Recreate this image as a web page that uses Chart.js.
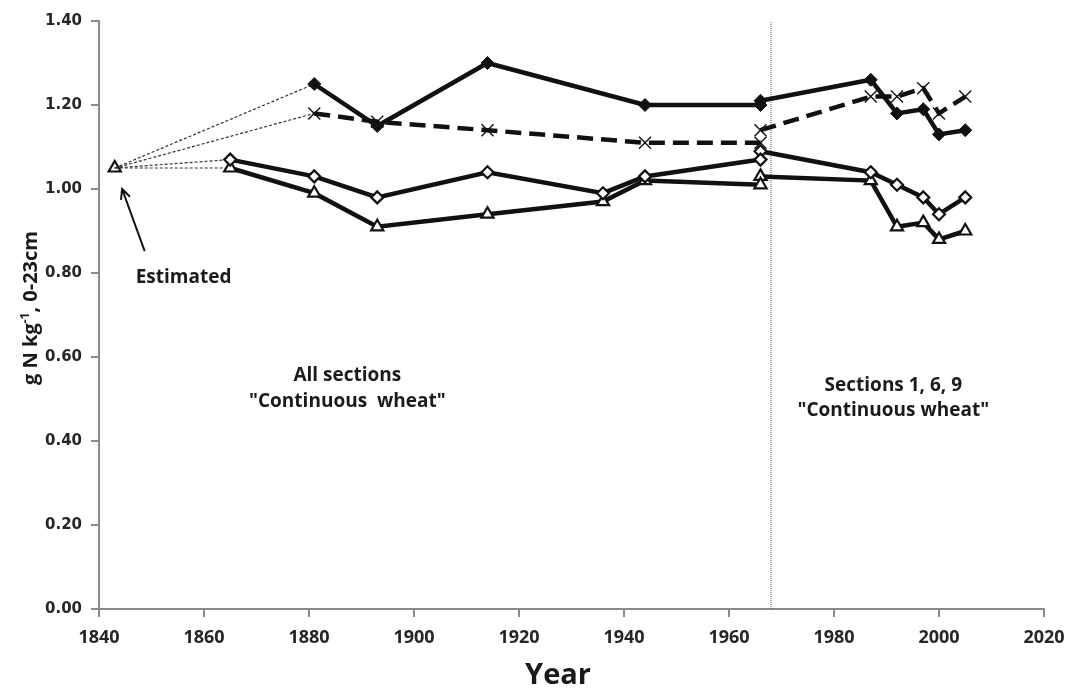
<!DOCTYPE html>
<html>
<head>
<meta charset="utf-8">
<script src="https://cdn.jsdelivr.net/npm/chart.js@4/dist/chart.umd.min.js"></script>
<style>
  html, body { margin: 0; padding: 0; background: #fff; }
  #wrap { width: 1066px; height: 689px; }
</style>
</head>
<body>
<div id="wrap"><canvas id="soil-n-graph" width="1066" height="689"></canvas></div>
<script>
// Broadbalk "continuous wheat", total N in topsoil (g N/kg, 0-23cm)
const estYear = 1843, estValue = 1.05;
const splitYear = 1968;

// all sections, up to 1966
const fdAllYears = [1881, 1893, 1914, 1944, 1966];
const fdAllN     = [1.25, 1.15, 1.30, 1.20, 1.20];
const xAllYears  = [1881, 1893, 1914, 1944, 1966];
const xAllN      = [1.18, 1.16, 1.14, 1.11, 1.11];
const odAllYears = [1865, 1881, 1893, 1914, 1936, 1944, 1966];
const odAllN     = [1.07, 1.03, 0.98, 1.04, 0.99, 1.03, 1.07];
const trAllYears = [1865, 1881, 1893, 1914, 1936, 1944, 1966];
const trAllN     = [1.05, 0.99, 0.91, 0.94, 0.97, 1.02, 1.01];

// sections 1, 6, 9 from 1966
const secYears = [1966, 1987, 1992, 1997, 2000, 2005];
const fdSecN   = [1.21, 1.26, 1.18, 1.19, 1.13, 1.14];
const xSecN    = [1.14, 1.22, 1.22, 1.24, 1.18, 1.22];
const odSecN   = [1.09, 1.04, 1.01, 0.98, 0.94, 0.98];
const trSecN   = [1.03, 1.02, 0.91, 0.92, 0.88, 0.90];

const yTicks = [0, 0.2, 0.4, 0.6, 0.8, 1.0, 1.2, 1.4];
const xTicks = [1840, 1860, 1880, 1900, 1920, 1940, 1960, 1980, 2000, 2020];

function pts(xs, ys) {
    return xs.map((x, i) => ({x, y: ys[i]}));
}

const black = '#111';
const marker = {
    fd: {pointStyle: 'rectRot', pointRadius: 6.5, pointBackgroundColor: black, pointBorderColor: black, pointBorderWidth: 1},
    x:  {pointStyle: 'crossRot', pointRadius: 8.5, pointBackgroundColor: black, pointBorderColor: black, pointBorderWidth: 1.4},
    od: {pointStyle: 'rectRot', pointRadius: 6, pointBackgroundColor: '#fff', pointBorderColor: black, pointBorderWidth: 2.2},
    tr: {pointStyle: 'triangle', pointRadius: 7, pointBackgroundColor: '#fff', pointBorderColor: black, pointBorderWidth: 2.2}
};

function series(data, m, dashed) {
    return Object.assign({
        data,
        showLine: true,
        borderColor: black,
        borderWidth: 4.5,
        borderDash: dashed ? [16, 8] : [],
        fill: false
    }, marker[m]);
}

function connector(toYear, toValue) {
    return {
        data: [{x: estYear, y: estValue}, {x: toYear, y: toValue}],
        showLine: true,
        borderColor: '#333',
        borderWidth: 1.2,
        borderDash: [3, 2],
        pointRadius: 0
    };
}

const datasets = [
    series(pts(fdAllYears, fdAllN), 'fd'),
    series(pts(xAllYears, xAllN), 'x', true),
    series(pts(odAllYears, odAllN), 'od'),
    series(pts(trAllYears, trAllN), 'tr'),
    series(pts(secYears, fdSecN), 'fd'),
    series(pts(secYears, xSecN), 'x', true),
    series(pts(secYears, odSecN), 'od'),
    series(pts(secYears, trSecN), 'tr'),
    connector(fdAllYears[0], fdAllN[0]),
    connector(xAllYears[0], xAllN[0]),
    connector(odAllYears[0], odAllN[0]),
    connector(trAllYears[0], trAllN[0]),
    Object.assign({data: [{x: estYear, y: estValue}], showLine: false}, marker.tr),
    {
        data: [{x: splitYear, y: 0}, {x: splitYear, y: 1.4}],
        showLine: true,
        borderColor: '#555',
        borderWidth: 1,
        borderDash: [1, 1],
        pointRadius: 0
    }
];

// notes on the plot, placed in data units
const notes = [
    {text: 'Estimated', x: 1856.1, y: 0.79},
    {text: 'All sections', x: 1887.3, y: 0.555},
    {text: '"Continuous  wheat"', x: 1887.3, y: 0.495},
    {text: 'Sections 1, 6, 9', x: 1991.3, y: 0.533},
    {text: '"Continuous wheat"', x: 1991.3, y: 0.473}
];

const notesPlugin = {
    id: 'notes',
    afterDatasetsDraw(chart) {
        const {ctx, scales: {x, y}} = chart;
        ctx.save();
        ctx.fillStyle = '#1a1a1a';
        ctx.font = 'bold 19px "Open Sans"';
        ctx.textAlign = 'center';
        ctx.textBaseline = 'middle';
        notes.forEach(n => ctx.fillText(n.text, x.getPixelForValue(n.x), y.getPixelForValue(n.y)));

        // arrow from the label to the estimated point
        const x0 = x.getPixelForValue(1848.7), y0 = y.getPixelForValue(0.852);
        const x1 = x.getPixelForValue(1844.4), y1 = y.getPixelForValue(1.0);
        const a = Math.atan2(y1 - y0, x1 - x0);
        ctx.strokeStyle = '#111';
        ctx.lineWidth = 2;
        ctx.beginPath();
        ctx.moveTo(x0, y0);
        ctx.lineTo(x1, y1);
        ctx.moveTo(x1 - 11 * Math.cos(a - 0.45), y1 - 11 * Math.sin(a - 0.45));
        ctx.lineTo(x1, y1);
        ctx.lineTo(x1 - 11 * Math.cos(a + 0.45), y1 - 11 * Math.sin(a + 0.45));
        ctx.stroke();
        ctx.restore();
    },
    afterDraw(chart) {
        // axis titles, the y one with a real superscript
        const {ctx} = chart;
        ctx.save();
        ctx.fillStyle = '#1a1a1a';
        ctx.textBaseline = 'alphabetic';

        ctx.font = 'bold 29px "Open Sans"';
        ctx.textAlign = 'center';
        ctx.fillText('Year', 558, 684);

        ctx.translate(37, 308);
        ctx.rotate(-Math.PI / 2);
        const big = 'bold 20px "Open Sans"', small = 'bold 12px "Open Sans"';
        const parts = [['g N kg', big, 0], ['-1', small, -8], [', 0-23cm', big, 0]];
        let total = 0;
        parts.forEach(p => { ctx.font = p[1]; total += ctx.measureText(p[0]).width; });
        let cx = -total / 2;
        ctx.textAlign = 'left';
        parts.forEach(p => {
            ctx.font = p[1];
            ctx.fillText(p[0], cx, p[2]);
            cx += ctx.measureText(p[0]).width;
        });
        ctx.restore();
    }
};

const axisGray = '#8a8a8a';

const chart = new Chart(document.getElementById('soil-n-graph'), {
    type: 'scatter',
    data: {datasets},
    options: {
        responsive: false,
        animation: false,
        layout: {padding: {left: 0, right: 22, top: 21, bottom: 0}},
        plugins: {
            legend: {display: false},
            tooltip: {enabled: false}
        },
        scales: {
            x: {
                type: 'linear',
                min: 1840,
                max: 2020,
                afterFit(scale) {
                    scale.height = 80;
                    scale.paddingLeft = 0;
                    scale.paddingRight = 0;
                },
                afterBuildTicks(scale) { scale.ticks = xTicks.map(v => ({value: v})); },
                border: {color: axisGray, width: 2},
                grid: {drawOnChartArea: false, drawTicks: true, tickLength: 8, color: axisGray, lineWidth: 2},
                ticks: {
                    padding: 10,
                    color: '#262626',
                    font: {family: '"Open Sans"', size: 18, weight: 'bold'},
                    maxRotation: 0,
                    callback: v => String(v)
                }
            },
            y: {
                min: 0,
                max: 1.4,
                afterFit(scale) {
                    scale.width = 99;
                    scale.paddingTop = 0;
                    scale.paddingBottom = 0;
                },
                afterBuildTicks(scale) { scale.ticks = yTicks.map(v => ({value: v})); },
                border: {color: axisGray, width: 2},
                grid: {drawOnChartArea: false, drawTicks: true, tickLength: 8, color: axisGray, lineWidth: 2},
                ticks: {
                    padding: 9,
                    color: '#262626',
                    font: {family: '"DejaVu Sans"', size: 15, weight: 'bold'},
                    callback: v => v.toFixed(2)
                }
            }
        }
    },
    plugins: [notesPlugin]
});
</script>
</body>
</html>
